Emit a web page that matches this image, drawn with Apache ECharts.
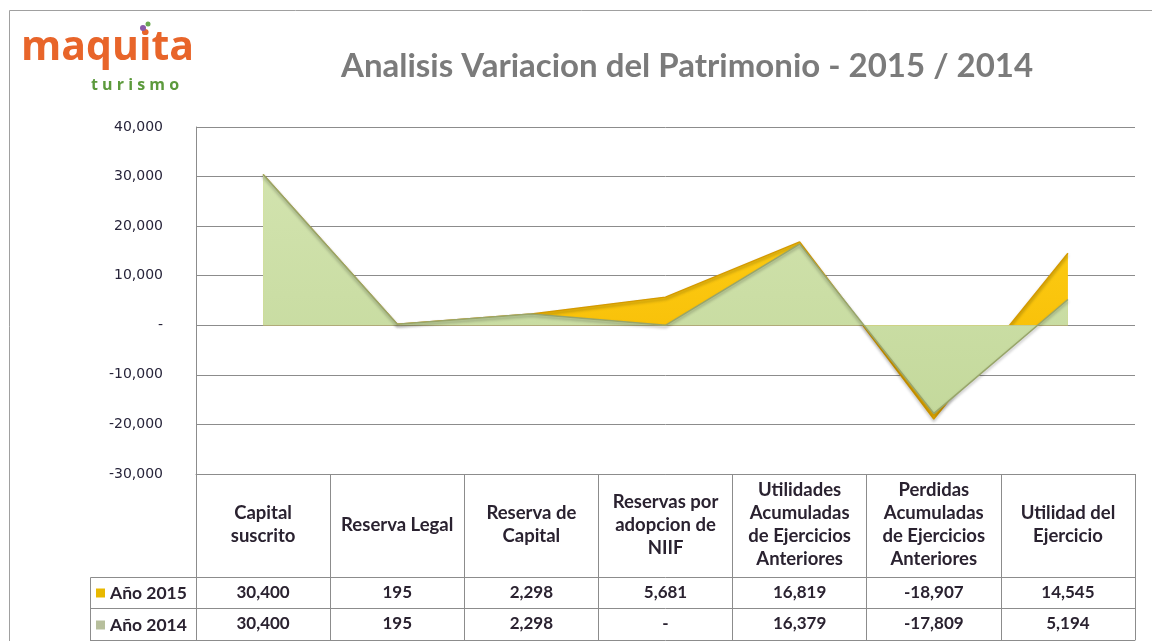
<!DOCTYPE html>
<html>
<head>
<meta charset="utf-8">
<script src="https://cdn.jsdelivr.net/npm/echarts@6/dist/echarts.min.js"></script>
<style>
html,body{margin:0;padding:0;background:#fff;}
#c{width:1152px;height:641px;}
</style>
</head>
<body>
<div id="c"></div>
<script>
const categories = ['Capital\nsuscrito','Reserva Legal','Reserva de\nCapital','Reservas por\nadopcion de\nNIIF','Utilidades\nAcumuladas\nde Ejercicios\nAnteriores','Perdidas\nAcumuladas\nde Ejercicios\nAnteriores','Utilidad del\nEjercicio'];
const seriesNames = ['Año 2015','Año 2014'];
const values2015 = [30400, 195, 2298, 5681, 16819, -18907, 14545];
const values2014 = [30400, 195, 2298, 0, 16379, -17809, 5194];
const yMin = -30000, yMax = 40000, yInterval = 10000;

function fmt(v){ return v === 0 ? '-' : v.toLocaleString('en-US'); }

const chart = echarts.init(document.getElementById('c'), null, {renderer:'canvas'});
const tableFont = 'Lato, "Open Sans", sans-serif';
const txtColor = '#2a2230';
const lineColor = '#8c8c8c';

const gridL = 196, gridR = 17, gridT = 127, gridB = 167;

function valueAxisX(offset, vals){
  return {
    type:'category', data:categories, position:'bottom', offset:offset, gridIndex:0,
    boundaryGap:true,
    axisLine:{show:true, onZero:false, lineStyle:{color:lineColor, width:1}},
    axisTick:{show:false},
    axisLabel: vals ? {
      show:true, interval:0, margin: 16, verticalAlign:'middle',
      fontFamily:tableFont, fontWeight:'bold', fontSize:17, color:txtColor,
      formatter:(v,i)=>fmt(vals[i])
    } : {show:false},
    splitLine:{show:false}
  };
}

const option = {
  animation:false,
  backgroundColor:'#fff',
  title:{
    text:'Analisis Variacion del Patrimonio - 2015 / 2014',
    left:336, top:45,
    textStyle:{fontFamily:tableFont, fontWeight:'bold', fontSize:33, color:'#7b7b7b'}
  },
  legend:{
    orient:'vertical', left:96, top:584, itemGap:14, padding:0,
    itemWidth:9, itemHeight:9, icon:'rect',
    textStyle:{fontFamily:tableFont, fontWeight:'bold', fontSize:17.5, color:txtColor, lineHeight:18},
    data:[
      {name:seriesNames[0], itemStyle:{color:'#e8b800'}},
      {name:seriesNames[1], itemStyle:{color:'#b7bf9c'}}
    ]
  },
  grid:{left:gridL, right:gridR, top:gridT, bottom:gridB},
  xAxis:[
    {
      type:'category', data:categories, position:'bottom', boundaryGap:true,
      axisLine:{show:true, onZero:false, lineStyle:{color:lineColor, width:1}},
      axisTick:{show:true, inside:false, length:166, lineStyle:{color:lineColor, width:1}},
      axisLabel:{
        show:true, interval:0, margin:51, verticalAlign:'middle', align:'center',
        fontFamily:tableFont, fontWeight:'bold', fontSize:18.5, lineHeight:23, color:txtColor
      },
      splitLine:{show:false}
    },
    valueAxisX(103, values2015),
    valueAxisX(134, values2014),
    valueAxisX(166, null)
  ],
  yAxis:{
    type:'value', min:yMin, max:yMax, interval:yInterval,
    axisLine:{show:true, lineStyle:{color:lineColor, width:1}},
    axisTick:{show:false},
    axisLabel:{
      margin:33, fontFamily:'"DejaVu Sans", Verdana, sans-serif', fontSize:14, color:'#27243a',
      formatter:v=>fmt(v)
    },
    splitLine:{show:true, lineStyle:{color:lineColor, width:1}}
  },
  series:[
    {
      name:seriesNames[0], type:'line', data:values2015, xAxisIndex:0,
      symbol:'none', smooth:false,
      itemStyle:{color:'#e8b800'},
      lineStyle:{color:'#d49a00', width:1.5, shadowColor:'rgba(0,0,0,0.35)', shadowBlur:3, shadowOffsetY:2},
      areaStyle:{
        opacity:1,
        color:{type:'linear', x:0,y:0,x2:0,y2:1, colorStops:[
          {offset:0,color:'#ffd21a'},{offset:1,color:'#f5b800'}]}
      },
      emphasis:{disabled:true}, z:2
    },
    {
      name:seriesNames[1], type:'line', data:values2014, xAxisIndex:0,
      symbol:'none', smooth:false,
      itemStyle:{color:'#b7bf9c'},
      lineStyle:{color:'#98a56a', width:1.5, shadowColor:'rgba(0,0,0,0.35)', shadowBlur:3, shadowOffsetY:2},
      areaStyle:{
        opacity:1,
        color:{type:'linear', x:0,y:0,x2:0,y2:1, colorStops:[
          {offset:0,color:'#d2e3ae'},{offset:1,color:'#c4d99c'}]}
      },
      emphasis:{disabled:true}, z:3
    }
  ],
  graphic:[
    {type:'rect', shape:{x:9.5,y:10.5,width:1200,height:700}, style:{fill:'none', stroke:'#a0a0a0', lineWidth:1}, silent:true, z:-1},
    {type:'text', left:21, top:28, style:{text:'maquita', fontFamily:'"Open Sans", Lato, sans-serif', fontWeight:'bold', fontSize:41, fill:'#e8652a'}},
    {type:'circle', shape:{cx:143, cy:28, r:3}, style:{fill:'#8a5aa8'}},
    {type:'circle', shape:{cx:148, cy:24, r:2.5}, style:{fill:'#6aa84f'}},
    {type:'text', left:91, top:77, style:{text:'t u r i s m o', fontFamily:'"Open Sans", Lato, sans-serif', fontWeight:'bold', fontSize:16, fill:'#5c9a3c'}},
    {type:'polyline', shape:{points:[[90.5,577.5],[196,577.5]]}, style:{stroke:lineColor, lineWidth:1}},
    {type:'polyline', shape:{points:[[90.5,608.5],[196,608.5]]}, style:{stroke:lineColor, lineWidth:1}},
    {type:'polyline', shape:{points:[[90.5,640.5],[196,640.5]]}, style:{stroke:lineColor, lineWidth:1}},
    {type:'polyline', shape:{points:[[90.5,577.5],[90.5,641]]}, style:{stroke:lineColor, lineWidth:1}}
  ]
};
chart.setOption(option);
</script>
</body>
</html>
